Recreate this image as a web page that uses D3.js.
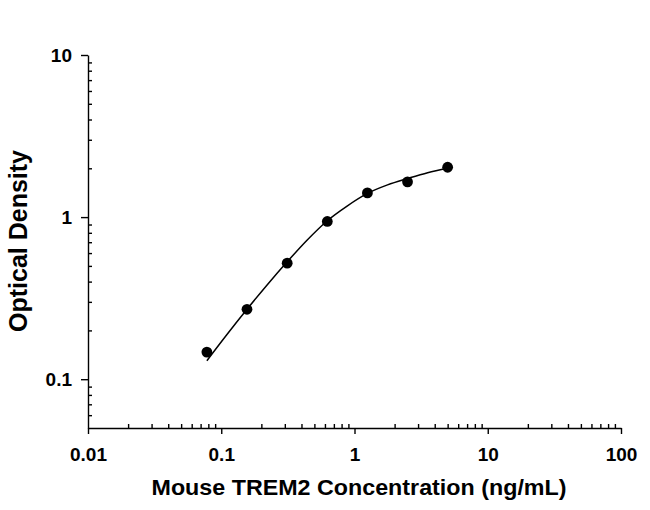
<!DOCTYPE html>
<html>
<head>
<meta charset="utf-8">
<script src="https://cdn.jsdelivr.net/npm/d3@7"></script>
<style>
  body { margin: 0; background: #fff; }
  svg { display: block; }
  .axis path, .axis line { stroke: #000; stroke-width: 1.4; }
  .axis text { font-family: "Liberation Sans", Arial, sans-serif; font-weight: bold; font-size: 19px; fill: #000; }
  .title { font-family: "Liberation Sans", Arial, sans-serif; font-weight: bold; fill: #000; }
</style>
</head>
<body>
<div class="chart"></div>
<script>
// measured points
const concentration = [0.078, 0.156, 0.3125, 0.625, 1.25, 2.5, 5];
const opticalDensity = [0.147, 0.27, 0.52, 0.94, 1.41, 1.65, 2.03];

// fitted curve
const fitConcentration = [0.078, 0.11, 0.156, 0.22, 0.3125, 0.44, 0.625, 0.88, 1.25, 1.77, 2.5, 3.54, 5];
const fitDensity = [0.130, 0.188, 0.27, 0.38, 0.53, 0.72, 0.95, 1.17, 1.40, 1.58, 1.73, 1.88, 2.00];

const xMajor = [0.01, 0.1, 1, 10, 100];
const xMinor = [0.02, 0.03, 0.04, 0.05, 0.06, 0.07, 0.08, 0.09,
                0.2, 0.3, 0.4, 0.5, 0.6, 0.7, 0.8, 0.9,
                2, 3, 4, 5, 6, 7, 8, 9,
                20, 30, 40, 50, 60, 70, 80, 90];
const yMajor = [0.1, 1, 10];
const yMinor = [0.06, 0.07, 0.08, 0.09,
                0.2, 0.3, 0.4, 0.5, 0.6, 0.7, 0.8, 0.9,
                2, 3, 4, 5, 6, 7, 8, 9];

const W = 650, H = 510;
const plotLeft = 88, plotRight = 621, plotTop = 55, plotBottom = 428;

const x = d3.scaleLog().domain([0.01, 100]).range([plotLeft, plotRight]);
const y = d3.scaleLog().domain([0.05, 10]).range([plotBottom, plotTop]);

const svg = d3.select('.chart')
    .append('svg')
    .attr('width', W)
    .attr('height', H);

// x axis: major ticks outward, minor inward
svg.append('g')
    .attr('class', 'axis')
    .attr('transform', `translate(0,${plotBottom})`)
    .call(d3.axisBottom(x).tickValues(xMajor).tickSize(6).tickSizeOuter(0)
        .tickPadding(14).tickFormat(d => d3.format('~g')(d)));

svg.append('g')
    .attr('class', 'axis')
    .attr('transform', `translate(0,${plotBottom})`)
    .call(d3.axisTop(x).tickValues(xMinor).tickSize(4).tickSizeOuter(0).tickFormat(''))
    .select('.domain').remove();

// y axis
svg.append('g')
    .attr('class', 'axis')
    .attr('transform', `translate(${plotLeft},0)`)
    .call(d3.axisLeft(y).tickValues(yMajor).tickSize(7).tickSizeOuter(0)
        .tickPadding(9).tickFormat(d => d3.format('~g')(d)));

svg.append('g')
    .attr('class', 'axis')
    .attr('transform', `translate(${plotLeft},0)`)
    .call(d3.axisRight(y).tickValues(yMinor).tickSize(4).tickSizeOuter(0).tickFormat(''))
    .select('.domain').remove();

// fit line
const fit = fitConcentration.map((c, i) => ({ c: c, od: fitDensity[i] }));
const line = d3.line()
    .x(d => x(d.c))
    .y(d => y(d.od))
    .curve(d3.curveMonotoneX);

svg.append('path')
    .datum(fit)
    .attr('d', line)
    .attr('fill', 'none')
    .attr('stroke', '#000')
    .attr('stroke-width', 1.5);

svg.selectAll('.dot')
    .data(concentration)
    .enter()
    .append('circle')
    .attr('class', 'dot')
    .attr('cx', d => x(d))
    .attr('cy', (d, i) => y(opticalDensity[i]))
    .attr('r', 5.4)
    .attr('fill', '#000');

// titles
svg.append('text')
    .attr('class', 'title')
    .attr('x', 359)
    .attr('y', 495)
    .attr('text-anchor', 'middle')
    .attr('font-size', 22)
    .attr('textLength', 415)
    .attr('lengthAdjust', 'spacingAndGlyphs')
    .text('Mouse TREM2 Concentration (ng/mL)');

svg.append('text')
    .attr('class', 'title')
    .attr('transform', 'translate(27,241) rotate(-90)')
    .attr('text-anchor', 'middle')
    .attr('font-size', 25)
    .text('Optical Density');
</script>
</body>
</html>
